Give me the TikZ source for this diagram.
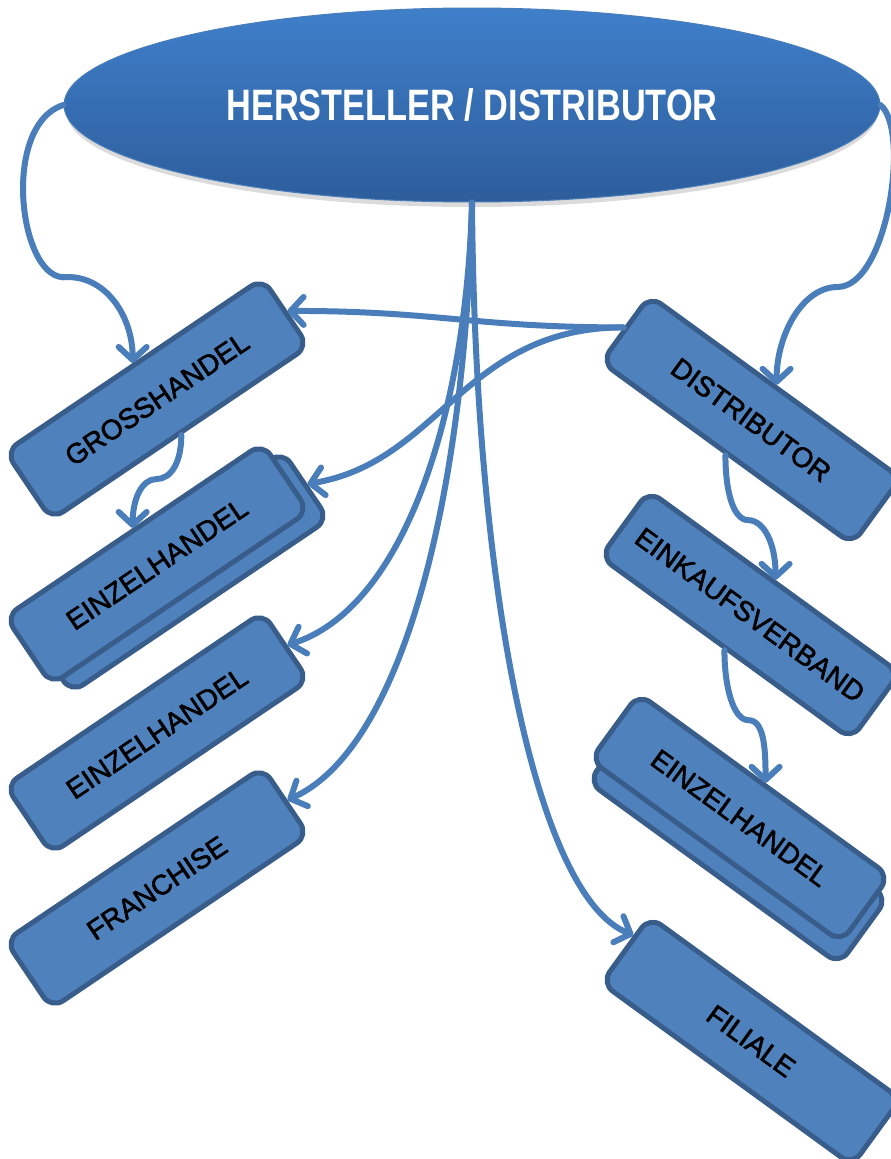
\documentclass[tikz,border=0pt]{standalone}
\usepackage{fontspec}
\setmainfont{Liberation Sans}
\newfontfamily\hdfont[FakeStretch=0.78]{Liberation Sans}
\newfontfamily\boxfont[FakeBold=2]{Liberation Sans}
\usetikzlibrary{arrows.meta,shapes.geometric}
\definecolor{boxfill}{HTML}{4F81BD}
\definecolor{boxline}{HTML}{385D8A}
\definecolor{conn}{HTML}{4A7EBB}
\definecolor{elltop}{HTML}{3F7FCA}
\definecolor{ellbot}{HTML}{2D5D9B}
\begin{document}
\begin{tikzpicture}[x=1pt,y=1pt,line join=round,line cap=round,
    box/.style={draw=boxline,fill=boxfill,line width=5pt,rounded corners=14pt,minimum width=310pt,minimum height=82pt,inner sep=0pt,font=\boxfont\fontsize{28}{30}\selectfont},
    link/.style={draw=conn,line width=6pt,-{Straight Barb[length=13pt,width=28pt,round]}}]
    \useasboundingbox (0,0) rectangle (891,-1159);
    \fill[black!40,opacity=.35] (472,-111) ellipse (406 and 96);% Schatten
    \node[ellipse,top color=elltop,bottom color=ellbot,draw=conn,line width=1pt,minimum width=816pt,minimum height=194pt,inner sep=0pt,text=white,font=\hdfont\bfseries\fontsize{44}{48}\selectfont] (hd) at (472,-105) {HERSTELLER / DISTRIBUTOR};
    \node[box,rotate=34] (ez1b) at (177,-572) {};
    \foreach \n/\y/\t in {gh/399/GROSSHANDEL,ez1/564/EINZELHANDEL,ez2/733/EINZELHANDEL,fr/888/FRANCHISE}
    \node[box,rotate=34] (\n) at (157,-\y) {\t};
    \node[box,rotate=-36] (ez3b) at (738,-840) {};
    \foreach \n/\x/\y/\t in {dist/751/420/DISTRIBUTOR,ek/750/615/EINKAUFSVERBAND,ez3/740/818/EINZELHANDEL,fil/751/1041/FILIALE}
    \node[box,rotate=-36] (\n) at (\x,-\y) {\t};
    \draw[link] (hd.west) .. controls +(-64,-20) and +(-48,-8) .. ++(4,-172) .. controls +(40,0) and +(0,45) .. (gh.north);
    \draw[link] (hd.east) .. controls +(30,-25) and +(50,0) .. ++(-43,-182) .. controls +(-35,0) and +(0,50) .. (dist.north);
    \draw[link] (gh.south) .. controls +(0,-27) and +(15,0) .. ++(-25,-44) .. controls +(-15,0) and +(0,28) .. (ez1.north);
    \draw[link] (dist.west) .. controls +(-150,0) and +(150,0) .. (gh.east);
    \draw[link] (dist.west) .. controls +(-160,0) and +(133,22) .. (ez1b.east);
    \draw[link] (hd.south) .. controls +(-6,-218) and +(114,36) .. (ez2.east);
    \draw[link] (hd.south) .. controls +(-7,-298) and +(114,51) .. (fr.east);
    \draw[link] (hd.south) .. controls +(3,-398) and +(-95,37) .. (fil.174);
    \draw[link] (dist.south) .. controls +(0,-37) and +(-15,0) .. ++(23,-65) .. controls +(15,0) and +(0,37) .. (ek.north);
    \draw[link] (ek.south) .. controls +(0,-37) and +(-15,0) .. ++(24,-70) .. controls +(15,0) and +(0,37) .. (ez3.north);
\end{tikzpicture}
\end{document}
